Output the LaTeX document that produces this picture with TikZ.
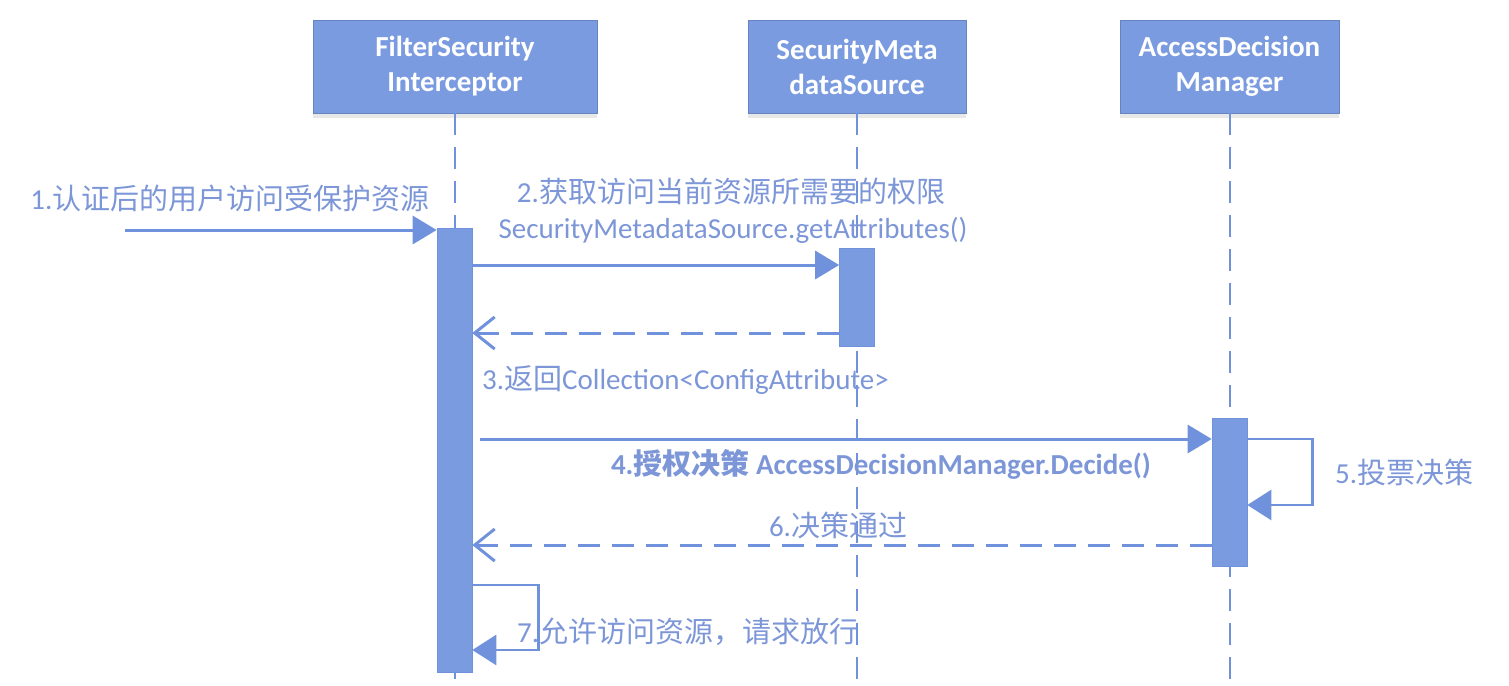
\documentclass[tikz,border=0pt]{standalone}
\usepackage{fontspec}
\setmainfont{Carlito}
\newfontfamily\cjk{Noto Sans CJK SC}
\usetikzlibrary{arrows.meta,positioning,calc,shadows}
\definecolor{boxblue}{RGB}{122,155,224}
\definecolor{lineblue}{RGB}{112,146,221}
\definecolor{txtblue}{RGB}{124,150,216}
\tikzset{
  obj/.style={fill=boxblue,draw=boxblue!85!black,line width=0.6pt,minimum height=93pt,text=white,font=\fontsize{29}{35}\selectfont\bfseries,align=center,
    drop shadow={shadow xshift=0pt,shadow yshift=-5pt,opacity=0.18,fill=gray}},
  life/.style={draw=lineblue,line width=2pt,dash pattern=on 22pt off 12pt},
  act/.style={fill=boxblue,draw=lineblue,line width=0.6pt,minimum width=35pt,inner sep=0pt},
  msg/.style={-{Triangle[length=24pt,width=28pt]},lineblue,line width=3pt},
  ret/.style={-{Straight Barb[length=20pt,width=32pt]},lineblue,line width=3pt,dash pattern=on 22pt off 12pt},
  loop/.style={-{Triangle[length=24pt,width=30pt]},lineblue,line width=2.5pt},
  lbl/.style={text=txtblue,font=\fontsize{29}{35}\selectfont,inner sep=0pt}
}
\begin{document}
\begin{tikzpicture}[x=1pt,y=-1pt]
\useasboundingbox (0,0) rectangle (1509,685);
% objects
\node[obj,minimum width=284pt] (fsi) at (455,66.5) {FilterSecurity\\Interceptor};
\node[obj,minimum width=218pt] (sms) at (857,66.5) {SecurityMeta\\dataSource};
\node[obj,minimum width=219pt] (adm) at (1229.5,66.5) {AccessDecision\\Manager};
% lifelines
\foreach \o in {fsi,sms,adm}{\draw[life] (\o.south) -- (\o.south |- 0,685);}
% activations
\node[act,minimum height=444pt] (bar1) at (454.5,450) {};
\node[act,minimum height=98pt] (bar2) at (857,297) {};
\node[act,minimum height=148pt] (bar3) at (1229.5,492) {};
% messages
\coordinate (user) at (125,230);
\draw[msg] (user) -- (bar1.west |- user);
\draw[msg] (bar1.east |- 0,265) -- (bar2.west |- 0,265);
\draw[ret] (bar2.west |- 0,333) -- (bar1.east |- 0,333);
\draw[msg] ([xshift=8pt]bar1.east |- 0,439) -- (bar3.west |- 0,439);
\draw[loop] (bar3.east |- 0,439) -- ++(65,0) |- (bar3.east |- 0,505);
\draw[ret] (bar3.west |- 0,545) -- (bar1.east |- 0,545);
\draw[loop] (bar1.east |- 0,585) -- ++(66,0) |- (bar1.east |- 0,650);
% labels
\node[lbl] (l1) at (230,198) {1.{\cjk 认证后的用户访问受保护资源}};
\node[lbl] (l2) at (731,191) {2.{\cjk 获取访问当前资源所需要的权限}};
\node[lbl] (l2b) at (733,230) {SecurityMetadataSource.getAttributes()};
\node[lbl,anchor=west] (l3) at (482,380) {3.{\cjk 返回}Collection<ConfigAttribute>};
\node[lbl,font=\fontsize{29}{35}\selectfont\bfseries] (l4) at (881,464) {4.{\cjk 授权决策} AccessDecisionManager.Decide()};
\node[lbl,anchor=west] (l5) at (1335,472) {5.{\cjk 投票决策}};
\node[lbl] (l6) at (838,525) {6.{\cjk 决策通过}};
\node[lbl,anchor=west] (l7) at (517,632) {7.{\cjk 允许访问资源，请求放行}};
\end{tikzpicture}
\end{document}
